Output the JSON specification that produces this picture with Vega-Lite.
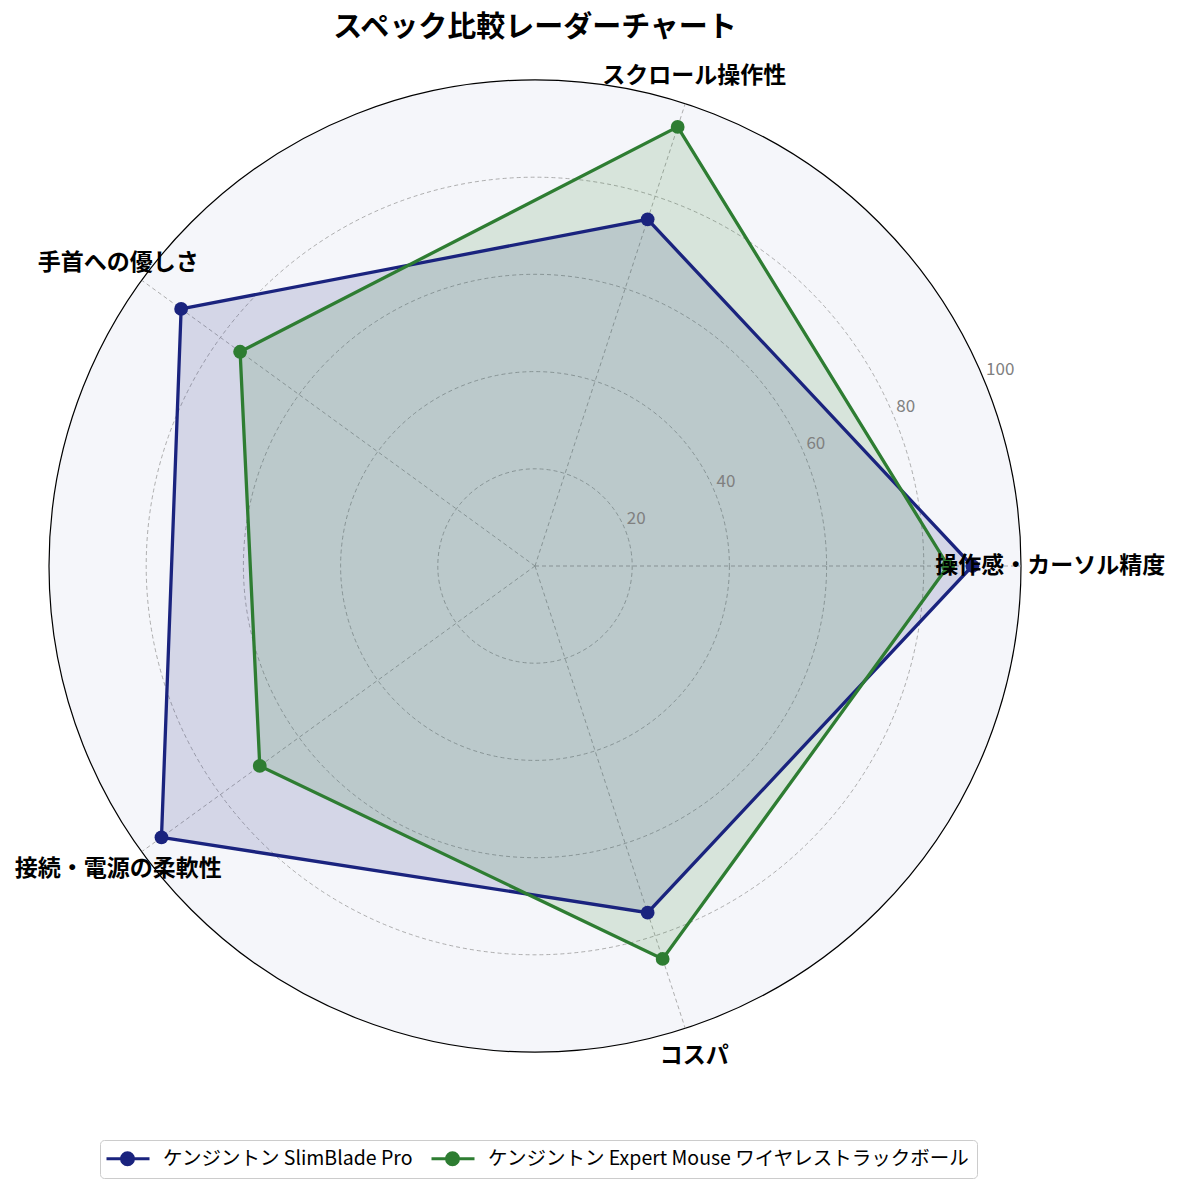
{
  "$schema": "https://vega.github.io/schema/vega-lite/v6.json",
  "width": 972,
  "height": 972,
  "autosize": {"type": "none"},
  "padding": {"left": 49, "top": 80, "right": 159, "bottom": 139},
  "background": "white",
  "title": {
    "text": "スペック比較レーダーチャート",
    "fontSize": 29,
    "fontWeight": "bold",
    "font": "Noto Sans CJK JP",
    "color": "black",
    "anchor": "middle",
    "frame": "group",
    "offset": 22
  },
  "datasets": {
    "scores": [
      {"series": "ケンジントン SlimBlade Pro", "axis": "操作感・カーソル精度", "value": 90},
      {"series": "ケンジントン SlimBlade Pro", "axis": "スクロール操作性", "value": 75},
      {"series": "ケンジントン SlimBlade Pro", "axis": "手首への優しさ", "value": 90},
      {"series": "ケンジントン SlimBlade Pro", "axis": "接続・電源の柔軟性", "value": 95},
      {"series": "ケンジントン SlimBlade Pro", "axis": "コスパ", "value": 75},
      {"series": "ケンジントン Expert Mouse ワイヤレストラックボール", "axis": "操作感・カーソル精度", "value": 85},
      {"series": "ケンジントン Expert Mouse ワイヤレストラックボール", "axis": "スクロール操作性", "value": 95},
      {"series": "ケンジントン Expert Mouse ワイヤレストラックボール", "axis": "手首への優しさ", "value": 75},
      {"series": "ケンジントン Expert Mouse ワイヤレストラックボール", "axis": "接続・電源の柔軟性", "value": 70},
      {"series": "ケンジントン Expert Mouse ワイヤレストラックボール", "axis": "コスパ", "value": 85}
    ],
    "axes": [
      {"axis": "操作感・カーソル精度"},
      {"axis": "スクロール操作性"},
      {"axis": "手首への優しさ"},
      {"axis": "接続・電源の柔軟性"},
      {"axis": "コスパ"}
    ],
    "rings": [{"r": 20}, {"r": 40}, {"r": 60}, {"r": 80}, {"r": 100}]
  },
  "layer": [
    {
      "data": {"name": "rings"},
      "transform": [
        {"filter": "datum.r == 100"},
        {"calculate": "0", "as": "cx"}
      ],
      "mark": {"type": "point", "shape": "circle", "filled": true, "fill": "#f5f6fa", "stroke": "black", "strokeWidth": 1.2, "opacity": 1},
      "encoding": {
        "x": {"field": "cx", "type": "quantitative", "scale": {"domain": [-100, 100], "nice": false, "zero": false}, "axis": null},
        "y": {"field": "cx", "type": "quantitative", "scale": {"domain": [-100, 100], "nice": false, "zero": false}, "axis": null},
        "size": {"field": "r", "type": "quantitative", "scale": {"type": "pow", "exponent": 2, "domain": [0, 100], "range": [0, 944784]}, "legend": null}
      }
    },
    {
      "data": {"name": "rings"},
      "transform": [
        {"filter": "datum.r < 100"},
        {"calculate": "0", "as": "cx"}
      ],
      "mark": {"type": "point", "shape": "circle", "filled": false, "color": "#9a9a9a", "strokeWidth": 0.8, "strokeDash": [4, 3], "opacity": 1},
      "encoding": {
        "x": {"field": "cx", "type": "quantitative", "axis": null},
        "y": {"field": "cx", "type": "quantitative", "axis": null},
        "size": {"field": "r", "type": "quantitative", "legend": null}
      }
    },
    {
      "data": {"name": "axes"},
      "transform": [
        {"calculate": "indexof(['操作感・カーソル精度','スクロール操作性','手首への優しさ','接続・電源の柔軟性','コスパ'], datum.axis) * 2 * PI / 5", "as": "angle"},
        {"calculate": "100 * cos(datum.angle)", "as": "ex"},
        {"calculate": "100 * sin(datum.angle)", "as": "ey"},
        {"calculate": "0", "as": "cx"}
      ],
      "mark": {"type": "rule", "color": "#9a9a9a", "strokeWidth": 0.8, "strokeDash": [4, 3]},
      "encoding": {
        "x": {"field": "cx", "type": "quantitative", "axis": null},
        "y": {"field": "cx", "type": "quantitative", "axis": null},
        "x2": {"field": "ex"},
        "y2": {"field": "ey"}
      }
    },
    {
      "data": {"name": "scores"},
      "transform": [
        {"calculate": "indexof(['操作感・カーソル精度','スクロール操作性','手首への優しさ','接続・電源の柔軟性','コスパ'], datum.axis)", "as": "idx"},
        {"calculate": "datum.value * cos(datum.idx * 2 * PI / 5)", "as": "x"},
        {"calculate": "datum.value * sin(datum.idx * 2 * PI / 5)", "as": "y"}
      ],
      "layer": [
        {
          "mark": {"type": "line", "interpolate": "linear-closed", "filled": true, "fillOpacity": 0.15, "strokeWidth": 0},
          "encoding": {
            "x": {"field": "x", "type": "quantitative", "axis": null},
            "y": {"field": "y", "type": "quantitative", "axis": null},
            "order": {"field": "idx", "type": "quantitative"},
            "color": {
              "field": "series",
              "type": "nominal",
              "scale": {
                "domain": ["ケンジントン SlimBlade Pro", "ケンジントン Expert Mouse ワイヤレストラックボール"],
                "range": ["#1a237e", "#2e7d32"]
              },
              "legend": {
                "title": null,
                "orient": "none",
                "legendX": 51,
                "legendY": 1060,
                "direction": "horizontal",
                "columns": 2,
                "padding": 7,
                "strokeColor": "#cccccc",
                "fillColor": "white",
                "cornerRadius": 4,
                "labelFont": "Noto Sans CJK JP",
                "labelFontSize": 19.5,
                "labelColor": "black",
                "labelLimit": 800,
                "labelOffset": 33,
                "columnPadding": 11,
                "symbolType": "M-1.2,0L3.1,0M1.5,0A0.6,0.6,0,1,1,0.3,0A0.6,0.6,0,1,1,1.5,0Z",
                "symbolSize": 400,
                "symbolStrokeWidth": 3,
                "encode": {
                  "symbols": {
                    "update": {
                      "fill": {"scale": "color", "field": "value"},
                      "stroke": {"scale": "color", "field": "value"},
                      "strokeWidth": {"value": 3},
                      "opacity": {"value": 1},
                      "fillOpacity": {"value": 1},
                      "strokeOpacity": {"value": 1}
                    }
                  }
                }
              }
            }
          }
        },
        {
          "mark": {"type": "line", "interpolate": "linear-closed", "strokeWidth": 3.3},
          "encoding": {
            "x": {"field": "x", "type": "quantitative", "axis": null},
            "y": {"field": "y", "type": "quantitative", "axis": null},
            "order": {"field": "idx", "type": "quantitative"},
            "color": {"field": "series", "type": "nominal"}
          }
        },
        {
          "mark": {"type": "point", "shape": "circle", "filled": true, "size": 190, "opacity": 1},
          "encoding": {
            "x": {"field": "x", "type": "quantitative", "axis": null},
            "y": {"field": "y", "type": "quantitative", "axis": null},
            "color": {"field": "series", "type": "nominal"}
          }
        }
      ]
    },
    {
      "data": {"name": "rings"},
      "transform": [
        {"calculate": "datum.r * cos(PI / 8)", "as": "lx"},
        {"calculate": "datum.r * sin(PI / 8)", "as": "ly"}
      ],
      "mark": {"type": "text", "align": "left", "baseline": "bottom", "dx": 2, "dy": -1, "fontSize": 17, "color": "#808080", "font": "Noto Sans CJK JP"},
      "encoding": {
        "x": {"field": "lx", "type": "quantitative", "axis": null},
        "y": {"field": "ly", "type": "quantitative", "axis": null},
        "text": {"field": "r", "type": "quantitative"}
      }
    },
    {
      "data": {"name": "axes"},
      "transform": [
        {"calculate": "indexof(['操作感・カーソル精度','スクロール操作性','手首への優しさ','接続・電源の柔軟性','コスパ'], datum.axis) * 2 * PI / 5", "as": "angle"},
        {"calculate": "106 * cos(datum.angle)", "as": "lx"},
        {"calculate": "106 * sin(datum.angle)", "as": "ly"}
      ],
      "mark": {"type": "text", "align": "center", "baseline": "middle", "fontSize": 23, "fontWeight": "bold", "color": "black", "font": "Noto Sans CJK JP"},
      "encoding": {
        "x": {"field": "lx", "type": "quantitative", "axis": null},
        "y": {"field": "ly", "type": "quantitative", "axis": null},
        "text": {"field": "axis", "type": "nominal"}
      }
    }
  ],
  "config": {
    "view": {"stroke": null},
    "font": "Noto Sans CJK JP"
  }
}
